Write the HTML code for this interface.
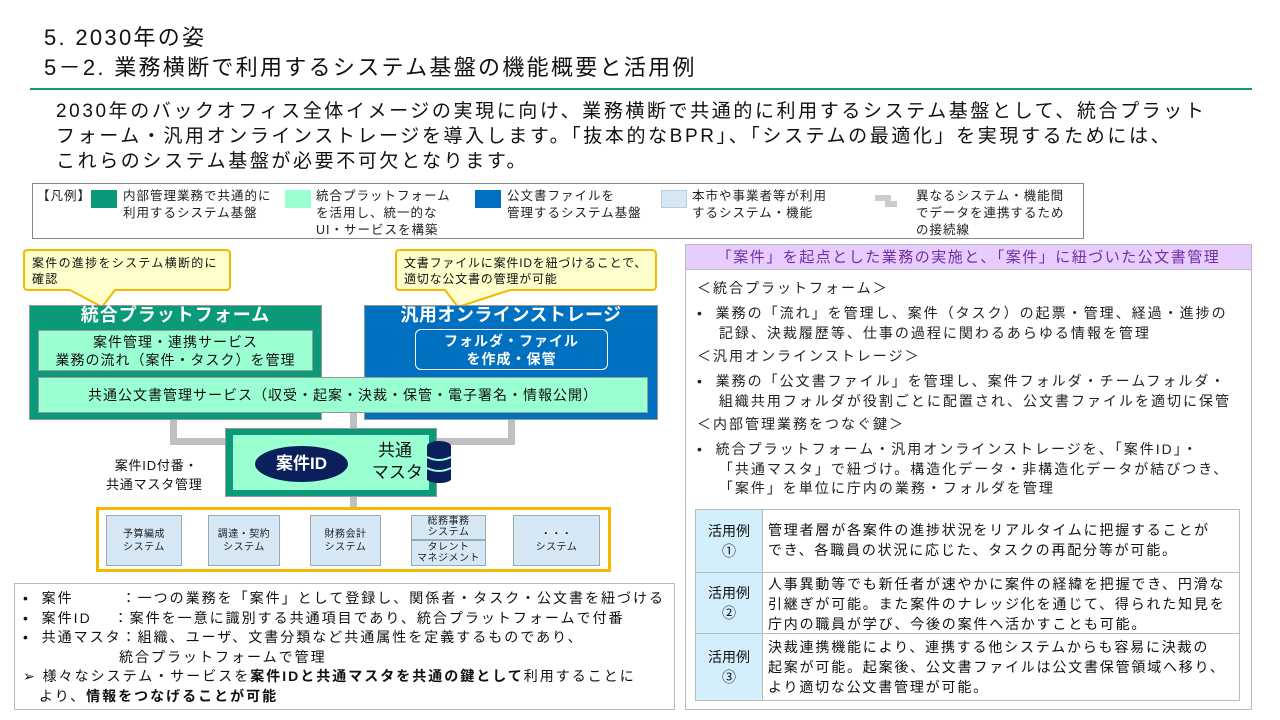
<!DOCTYPE html>
<html><head><meta charset="utf-8"><style>
*{margin:0;padding:0;box-sizing:border-box}
body{width:1280px;height:720px;background:#fff;position:relative;overflow:hidden;font-family:"Liberation Sans","Noto Sans CJK JP",sans-serif;color:#111}
.a{position:absolute}
.t{white-space:nowrap}
.lg{position:absolute;top:4px;font-size:12.5px;line-height:17px;color:#222;letter-spacing:1px}
.sw{position:absolute;top:6px;width:26px;height:18px}
.sys{position:absolute;top:515px;height:51px;background:#d6e8f6;border:1px solid #9aa;font-size:10px;line-height:13px;text-align:center;display:flex;align-items:center;justify-content:center;color:#222;letter-spacing:0.5px}
.rp{font-size:14px;line-height:19.5px;color:#222;letter-spacing:2px}
.row{position:absolute;left:695px;width:545px;border:1px solid #bbb;display:flex}
.row .h{width:67px;background:#d3effb;display:flex;align-items:center;justify-content:center;text-align:center;font-size:14px;line-height:20px;border-right:1px solid #bbb}
.row .c{padding:4px 6px 0 5px;font-size:14px;line-height:20px;white-space:nowrap;letter-spacing:1.8px}
</style></head><body>
<div class="a t" style="left:44px;top:25px;font-size:22px;line-height:26px;letter-spacing:2.3px">5. 2030年の姿</div>
<div class="a t" style="left:44px;top:55px;font-size:22px;line-height:26px;letter-spacing:2.3px">5－2. 業務横断で利用するシステム基盤の機能概要と活用例</div>
<div class="a" style="left:30px;top:88px;width:1222px;height:1.5px;background:#17957a"></div>
<div class="a t" style="left:56px;top:99px;font-size:19px;line-height:25px;letter-spacing:2.6px">2030年のバックオフィス全体イメージの実現に向け、業務横断で共通的に利用するシステム基盤として、統合プラット<br>フォーム・汎用オンラインストレージを導入します。「抜本的なBPR」、「システムの最適化」を実現するためには、<br>これらのシステム基盤が必要不可欠となります。</div>

<!-- legend -->
<div class="a" style="left:32px;top:183px;width:1052px;height:56px;border:1px solid #888">
<div class="lg t" style="left:4px">【凡例】</div>
<div class="sw" style="left:58px;background:#0a9a7a"></div>
<div class="lg t" style="left:90px">内部管理業務で共通的に<br>利用するシステム基盤</div>
<div class="sw" style="left:252px;background:#9affd1"></div>
<div class="lg t" style="left:283px">統合プラットフォーム<br>を活用し、統一的な<br>UI・サービスを構築</div>
<div class="sw" style="left:442px;background:#0070c0"></div>
<div class="lg t" style="left:474px">公文書ファイルを<br>管理するシステム基盤</div>
<div class="sw" style="left:628px;background:#d6e8f6;border:1px solid #bcd"></div>
<div class="lg t" style="left:659px">本市や事業者等が利用<br>するシステム・機能</div>
<div class="a" style="left:842px;top:11px;width:14px;height:6px;background:#ccc"></div>
<div class="a" style="left:852px;top:11px;width:6px;height:12px;background:#ccc"></div>
<div class="a" style="left:852px;top:17px;width:12px;height:6px;background:#ccc"></div>
<div class="lg t" style="left:883px">異なるシステム・機能間<br>でデータを連携するため<br>の接続線</div>
</div>

<!-- connectors -->
<div class="a" style="left:170px;top:418px;width:7px;height:27px;background:#bfbfbf"></div>
<div class="a" style="left:170px;top:438px;width:60px;height:7px;background:#bfbfbf"></div>
<div class="a" style="left:350px;top:412px;width:7px;height:18px;background:#bfbfbf"></div>
<div class="a" style="left:508px;top:418px;width:7px;height:27px;background:#bfbfbf"></div>
<div class="a" style="left:435px;top:438px;width:80px;height:7px;background:#bfbfbf"></div>
<div class="a" style="left:350px;top:496px;width:7px;height:12px;background:#bfbfbf"></div>

<!-- callouts -->
<svg class="a" style="left:0;top:245px" width="680" height="70">
<path d="M24 8 Q24 5 28 5 L226 5 Q230 5 230 9 L230 41 Q230 45 226 45 L115 45 L102 62 L70 45 L28 45 Q24 45 24 41 Z" fill="#ffffcc" stroke="#f5b800" stroke-width="2"/>
<path d="M396 8 Q396 5 400 5 L652 5 Q656 5 656 9 L656 41 Q656 45 652 45 L510 45 L458 62 L445 45 L400 45 Q396 45 396 41 Z" fill="#ffffcc" stroke="#f5b800" stroke-width="2"/>
</svg>
<div class="a t" style="left:32px;top:255px;font-size:12px;line-height:16px;letter-spacing:1.3px">案件の進捗をシステム横断的に<br>確認</div>
<div class="a t" style="left:404px;top:255px;font-size:12px;line-height:16px;letter-spacing:0.8px">文書ファイルに案件IDを紐づけることで、<br>適切な公文書の管理が可能</div>

<!-- main boxes -->
<div class="a" style="left:29px;top:305px;width:293px;height:115px;background:#0a9a7a;border:1px solid #999"></div>
<div class="a" style="left:364px;top:305px;width:294px;height:115px;background:#0070c0;border:1px solid #999"></div>
<div class="a t" style="left:29px;top:304px;width:293px;text-align:center;color:#fff;font-weight:bold;font-size:18px;line-height:22px;letter-spacing:1px">統合プラットフォーム</div>
<div class="a t" style="left:364px;top:304px;width:294px;text-align:center;color:#fff;font-weight:bold;font-size:18px;line-height:22px;letter-spacing:0.5px">汎用オンラインストレージ</div>
<div class="a" style="left:38px;top:330px;width:275px;height:41px;background:#9affd1;border:1px solid #999;text-align:center;font-size:14px;line-height:18px;padding-top:2px;letter-spacing:1px">案件管理・連携サービス<br>業務の流れ（案件・タスク）を管理</div>
<div class="a" style="left:415px;top:329px;width:193px;height:41px;border:1px solid #fff;border-radius:6px;text-align:center;color:#fff;font-weight:bold;font-size:14px;line-height:18px;padding-top:2px;letter-spacing:1px">フォルダ・ファイル<br>を作成・保管</div>
<div class="a" style="left:38px;top:377px;width:610px;height:36px;background:#9affd1;border:1px solid #999;text-align:center;font-size:14px;line-height:34px;letter-spacing:1px">共通公文書管理サービス（収受・起案・決裁・保管・電子署名・情報公開）</div>

<!-- center -->
<div class="a" style="left:225px;top:428px;width:212px;height:69px;background:#0a9a7a;border:1px solid #999"></div>
<div class="a" style="left:233px;top:435px;width:196px;height:55px;background:#9affd1"></div>
<div class="a" style="left:255px;top:446px;width:93px;height:36px;border-radius:50%;background:#0b1f5c;color:#fff;font-weight:bold;font-size:17px;line-height:36px;text-align:center">案件ID</div>
<div class="a t" style="left:360px;top:440px;width:70px;text-align:center;font-size:17px;line-height:22px">共通<br>&nbsp;マスタ</div>
<svg class="a" style="left:426px;top:441px" width="26" height="42">
<ellipse cx="13" cy="5" rx="12" ry="5" fill="#0b1f5c"/>
<rect x="1" y="5" width="24" height="34" fill="#0b1f5c"/>
<ellipse cx="13" cy="38" rx="12" ry="4" fill="#0b1f5c"/>
<path d="M1 16 Q13 22 25 16 M1 27 Q13 33 25 27" stroke="#9affd1" stroke-width="2" fill="none"/>
</svg>
<div class="a t" style="left:106px;top:456px;font-size:13px;line-height:19px;text-align:center;letter-spacing:0.8px">&nbsp;案件ID付番・<br>共通マスタ管理</div>

<!-- systems -->
<div class="a" style="left:96px;top:507px;width:515px;height:65px;border:3px solid #f5b800"></div>
<div class="sys" style="left:106px;width:76px">予算編成<br>システム</div>
<div class="sys" style="left:208px;width:72px">調達・契約<br>システム</div>
<div class="sys" style="left:310px;width:71px">財務会計<br>システム</div>
<div class="sys" style="left:411px;width:75px;height:25px;align-items:flex-start;line-height:11px">総務事務<br>システム</div>
<div class="sys" style="left:411px;top:540px;width:75px;height:26px;line-height:11px">タレント<br>マネジメント</div>
<div class="sys" style="left:513px;width:87px">・・・<br>システム</div>

<!-- bottom left -->
<div class="a t" style="left:14px;top:583px;width:661px;height:127px;border:1px solid #bbb;font-size:14px;line-height:19.5px;padding:5px 0 0 8px;letter-spacing:2px">
• &nbsp;案件　　　：一つの業務を「案件」として登録し、関係者・タスク・公文書を紐づける<br>
• &nbsp;案件ID　 ：案件を一意に識別する共通項目であり、統合プラットフォームで付番<br>
• &nbsp;共通マスタ：組織、ユーザ、文書分類など共通属性を定義するものであり、<br>
　　　　　　統合プラットフォームで管理<br>
➢ 様々なシステム・サービスを<b>案件IDと共通マスタを共通の鍵として</b>利用することに<br>
　より、<b>情報をつなげることが可能</b></div>

<!-- right panel -->
<div class="a" style="left:685px;top:244px;width:567px;height:466px;border:1px solid #bbb"></div>
<div class="a t" style="left:686px;top:245px;width:565px;height:25px;background:#e6ccff;border-bottom:1px solid #bbb;color:#7030a0;font-size:15px;line-height:25px;text-align:center;letter-spacing:1.5px">「案件」を起点とした業務の実施と、「案件」に紐づいた公文書管理</div>
<div class="a t rp" style="left:697px;top:279px">＜統合プラットフォーム＞</div>
<div class="a t rp" style="left:697px;top:304px">• &nbsp;業務の「流れ」を管理し、案件（タスク）の起票・管理、経過・進捗の<br>　&nbsp;記録、決裁履歴等、仕事の過程に関わるあらゆる情報を管理</div>
<div class="a t rp" style="left:697px;top:347px">＜汎用オンラインストレージ＞</div>
<div class="a t rp" style="left:697px;top:372px">• &nbsp;業務の「公文書ファイル」を管理し、案件フォルダ・チームフォルダ・<br>　&nbsp;組織共用フォルダが役割ごとに配置され、公文書ファイルを適切に保管</div>
<div class="a t rp" style="left:697px;top:415px">＜内部管理業務をつなぐ鍵＞</div>
<div class="a t rp" style="left:697px;top:440px">• &nbsp;統合プラットフォーム・汎用オンラインストレージを、「案件ID」・<br>　&nbsp;「共通マスタ」で紐づけ。構造化データ・非構造化データが結びつき、<br>　&nbsp;「案件」を単位に庁内の業務・フォルダを管理</div>

<div class="row" style="top:509px;height:64px"><div class="h">活用例<br>①</div><div class="c" style="padding-top:10px">管理者層が各案件の進捗状況をリアルタイムに把握することが<br>でき、各職員の状況に応じた、タスクの再配分等が可能。</div></div>
<div class="row" style="top:572px;height:62px"><div class="h">活用例<br>②</div><div class="c" style="padding-top:1px">人事異動等でも新任者が速やかに案件の経緯を把握でき、円滑な<br>引継ぎが可能。また案件のナレッジ化を通じて、得られた知見を<br>庁内の職員が学び、今後の案件へ活かすことも可能。</div></div>
<div class="row" style="top:633px;height:68px"><div class="h">活用例<br>③</div><div class="c" style="padding-top:3px">決裁連携機能により、連携する他システムからも容易に決裁の<br>起案が可能。起案後、公文書ファイルは公文書保管領域へ移り、<br>より適切な公文書管理が可能。</div></div>
</body></html>
